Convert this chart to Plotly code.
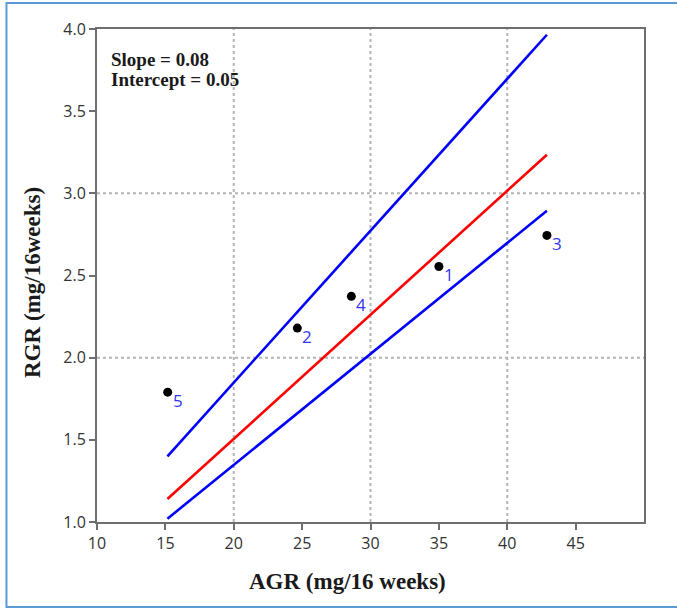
import plotly.graph_objects as go

# Data
agr = [35.0, 24.65, 42.9, 28.6, 15.17]
rgr = [2.555, 2.18, 2.744, 2.373, 1.79]
labels = ["1", "2", "3", "4", "5"]

line_x = [15.15, 42.9]
fit_y = [1.14, 3.235]
upper_y = [1.40, 3.965]
lower_y = [1.02, 2.894]

grid_x = [20, 30, 40]
grid_y = [2.0, 3.0]

x_ticks = [10, 15, 20, 25, 30, 35, 40, 45]
y_ticks = [1.0, 1.5, 2.0, 2.5, 3.0, 3.5, 4.0]

fig = go.Figure()

fig.add_trace(go.Scatter(x=line_x, y=upper_y, mode="lines",
                         line=dict(color="#0000ff", width=2.6), showlegend=False))
fig.add_trace(go.Scatter(x=line_x, y=fit_y, mode="lines",
                         line=dict(color="#ff0000", width=2.6), showlegend=False))
fig.add_trace(go.Scatter(x=line_x, y=lower_y, mode="lines",
                         line=dict(color="#0000ff", width=2.6), showlegend=False))
fig.add_trace(go.Scatter(x=agr, y=rgr, mode="markers",
                         marker=dict(color="black", size=9), showlegend=False,
                         cliponaxis=False))

for xv, yv, t in zip(agr, rgr, labels):
    fig.add_annotation(x=xv, y=yv, text=t, showarrow=False, xref="x", yref="y",
                       xanchor="center", yanchor="middle", xshift=10, yshift=-8,
                       font=dict(family="Open Sans", size=17, color="#3535f5"))

shapes = []
for gx in grid_x:
    shapes.append(dict(type="line", xref="x", yref="paper", x0=gx, x1=gx, y0=0, y1=1,
                       line=dict(color="#b4b4b4", width=2, dash="dot"), layer="below"))
for gy in grid_y:
    shapes.append(dict(type="line", xref="paper", yref="y", x0=0, x1=1, y0=gy, y1=gy,
                       line=dict(color="#b4b4b4", width=2, dash="dot"), layer="below"))
# outer frame
shapes.append(dict(type="rect", xref="paper", yref="paper", x0=-0.1655, x1=1.08,
                   y0=-0.1725, y1=1.0525, line=dict(color="#5b9bd5", width=2)))

fig.update_layout(
    width=677, height=609,
    margin=dict(l=97, r=33, t=29, b=87),
    paper_bgcolor="white", plot_bgcolor="white",
    shapes=shapes,
    showlegend=False,
)

axis_common = dict(showgrid=False, zeroline=False, showline=True, linecolor="#6e6e6e",
                   linewidth=2, mirror=True, ticks="outside", ticklen=6, tickwidth=2,
                   tickcolor="#6e6e6e",
                   tickfont=dict(family="Open Sans", size=16, color="#333333"))

fig.update_xaxes(range=[10, 50], tickmode="array", tickvals=x_ticks,
                 ticktext=[str(v) for v in x_ticks], **axis_common)
fig.update_yaxes(range=[1, 4], tickmode="array", tickvals=y_ticks,
                 ticktext=[f"{v:.1f}" for v in y_ticks], **axis_common)

title_font = dict(family="Liberation Serif", size=23, color="#1a1a1a")
fig.add_annotation(text="<b>AGR (mg/16 weeks)</b>", xref="paper", yref="paper",
                   x=0.458, y=0, xanchor="center", yanchor="middle", yshift=-59,
                   showarrow=False, font=title_font)
fig.add_annotation(text="<b>RGR (mg/16weeks)</b>", xref="paper", yref="paper",
                   x=0, y=0.485, xanchor="center", yanchor="middle", xshift=-64,
                   textangle=-90, showarrow=False, font=title_font)

info_font = dict(family="Liberation Serif", size=19, color="#1a1a1a")
fig.add_annotation(text="<b>Slope = 0.08</b>", xref="paper", yref="paper",
                   x=0.0225, y=1, xanchor="left", yanchor="middle", yshift=-30,
                   showarrow=False, font=info_font)
fig.add_annotation(text="<b>Intercept = 0.05</b>", xref="paper", yref="paper",
                   x=0.0225, y=1, xanchor="left", yanchor="middle", yshift=-50,
                   showarrow=False, font=info_font)

fig.write_html("out.html")
